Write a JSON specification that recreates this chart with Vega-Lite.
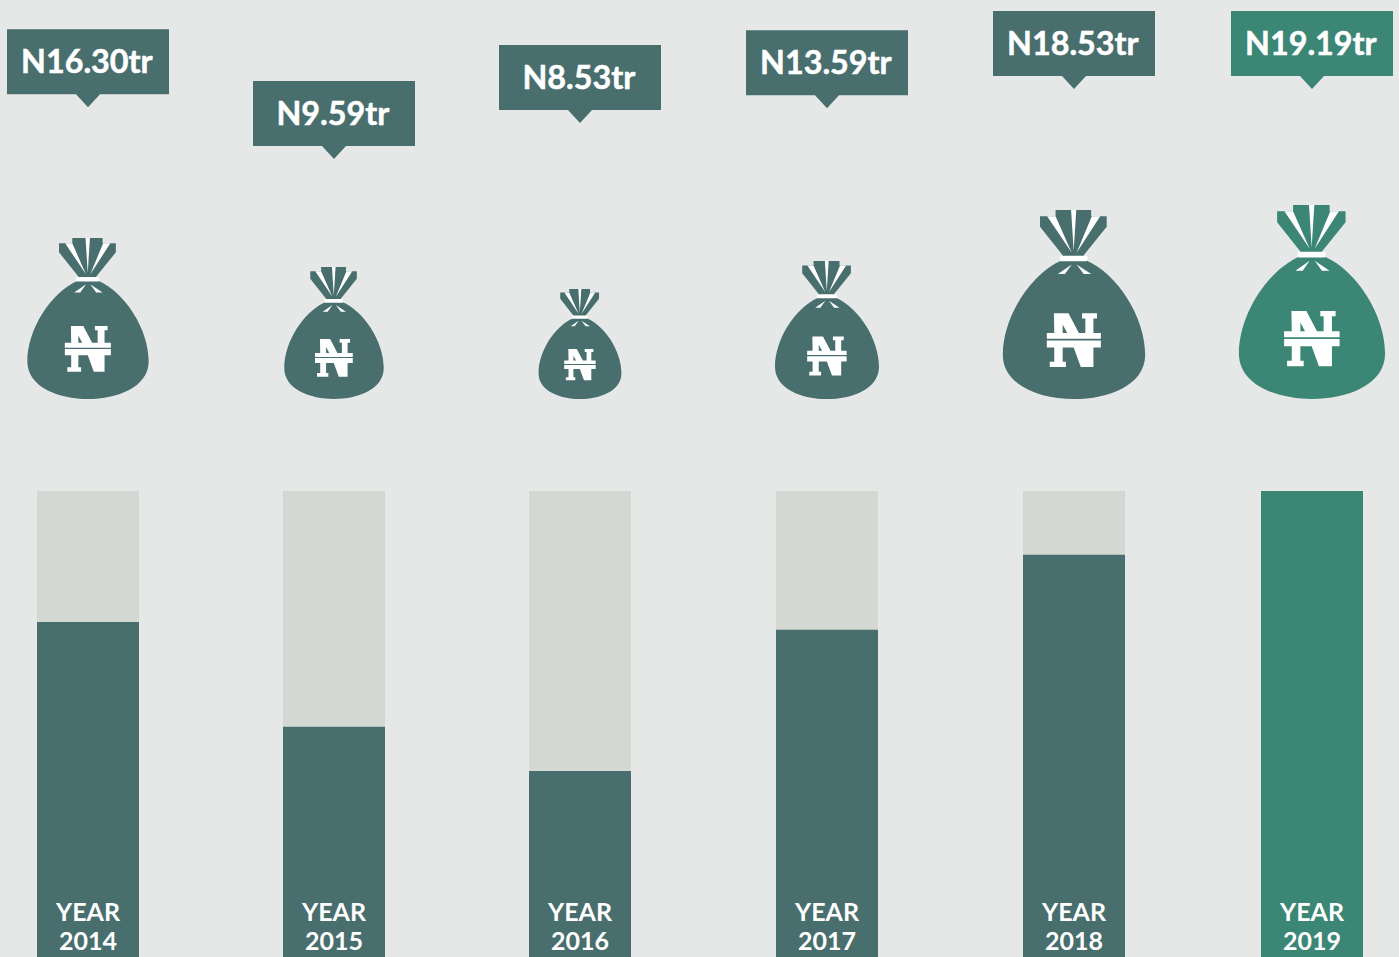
{"$schema":"https://vega.github.io/schema/vega-lite/v6.json","width":1399,"height":957,"autosize":{"type":"fit","contains":"padding"},"padding":0,"background":"#e6e8e7","view":{"stroke":null},
"data":{"values":[
{"year":2014,"label":"N16.30tr","share":71.9,"labelLevel":199.1,"bagHeight":161,"group":"past","yearText":"YEAR\n2014"},
{"year":2015,"label":"N9.59tr","share":49.4,"labelLevel":188.0,"bagHeight":132,"group":"past","yearText":"YEAR\n2015"},
{"year":2016,"label":"N8.53tr","share":39.9,"labelLevel":195.7,"bagHeight":110,"group":"past","yearText":"YEAR\n2016"},
{"year":2017,"label":"N13.59tr","share":70.2,"labelLevel":198.9,"bagHeight":138,"group":"past","yearText":"YEAR\n2017"},
{"year":2018,"label":"N18.53tr","share":86.3,"labelLevel":203.0,"bagHeight":189,"group":"past","yearText":"YEAR\n2018"},
{"year":2019,"label":"N19.19tr","share":100,"labelLevel":203.0,"bagHeight":194,"group":"latest","yearText":"YEAR\n2019"}
]},
"encoding":{"x":{"field":"year","type":"quantitative","axis":null,"scale":{"domain":[2014,2015,2016,2017,2018,2019],"range":[88,334,580,827,1074,1312],"nice":false,"zero":false,"padding":0}}},
"layer":[
{"mark":{"type":"bar","orient":"vertical","width":102,"color":"#d3d8d3"},"encoding":{"y":{"datum":100,"type":"quantitative","axis":null,"scale":{"domain":[0,205.365],"nice":false}}}},
{"mark":{"type":"bar","orient":"vertical","width":102},"encoding":{"y":{"field":"share","type":"quantitative","axis":null,"scale":{"domain":[0,205.365],"nice":false}},"color":{"field":"group","type":"nominal","legend":null,"scale":{"domain":["past","latest"],"range":["#486e6e","#3b8675"]}}}},
{"mark":{"type":"point","filled":true,"opacity":1,"strokeWidth":0,"shape":"M-37,-429 C-135,-387 -220,-252 -220,-137 C-220,-42 -105,0 0,0 C105,0 220,-42 220,-137 C220,-252 135,-387 37,-429 L30,-444 L101,-532 L101,-565 L53,-565 L53,-584 L-57,-584 L-57,-565 L-105,-565 L-105,-532 L-35,-444 Z"},"encoding":{"y":{"datum":119.74,"type":"quantitative","axis":null,"scale":{"domain":[0,205.365],"nice":false}},"size":{"field":"bagHeight","type":"quantitative","legend":null,"scale":{"type":"pow","exponent":2,"domain":[0,292],"range":[0,1]}},"color":{"field":"group","type":"nominal","legend":null,"scale":{"domain":["past","latest"],"range":["#486e6e","#3b8675"]}}}},
{"mark":{"type":"point","filled":true,"opacity":1,"strokeWidth":0,"color":"#ffffff","shape":"M-40,-443 L38,-443 L41,-440 L41,-429 L38,-426 L-40,-426 L-43,-429 L-43,-440 Z M-83,-565 L-57,-565 L-7,-452 Z M-9,-584 L7,-584 L-1,-457 Z M55,-565 L81,-565 L8,-452 Z M-7,-416 L-50,-386 L-28,-386 Z M8,-416 L53,-386 L30,-386 Z M-84,-204 L83,-204 L83,-186 L-84,-186 Z M-84,-181 L83,-181 L83,-159 L-84,-159 Z M35,-204 L35,-249 L25,-249 L25,-265 L71,-265 L71,-249 L60,-249 L60,-204 Z M-61,-204 L-35,-204 L-35,-230 L-21,-204 L15,-204 L-17,-265 L-62,-265 Z M-61,-181 L-35,-181 L-35,-115 L-25,-115 L-25,-99 L-75,-99 L-75,-115 L-61,-115 Z M-9,-181 L23,-181 L35,-157 L35,-181 L60,-181 L60,-99 L21,-99 Z"},"encoding":{"y":{"datum":119.74,"type":"quantitative","axis":null,"scale":{"domain":[0,205.365],"nice":false}},"size":{"field":"bagHeight","type":"quantitative","legend":null,"scale":{"type":"pow","exponent":2,"domain":[0,292],"range":[0,1]}}}},
{"mark":{"type":"point","filled":true,"opacity":1,"strokeWidth":0,"size":4,"shape":"M-81,0 L81,0 L81,65 L12,65 L0,78 L-12,65 L-81,65 Z"},"encoding":{"y":{"field":"labelLevel","type":"quantitative","axis":null,"scale":{"domain":[0,205.365],"nice":false}},"color":{"field":"group","type":"nominal","legend":null,"scale":{"domain":["past","latest"],"range":["#486e6e","#3b8675"]}}}},
{"mark":{"type":"text","font":"Lato","fontWeight":700,"fontSize":32.3,"color":"#ffffff","stroke":"#ffffff","strokeWidth":0.5,"baseline":"middle","align":"center","dy":34,"dx":-1.2},"encoding":{"y":{"field":"labelLevel","type":"quantitative","axis":null,"scale":{"domain":[0,205.365],"nice":false}},"text":{"field":"label"}}},
{"mark":{"type":"text","font":"Lato","fontWeight":700,"fontSize":25,"color":"#ffffff","baseline":"alphabetic","align":"center","lineBreak":"\n","lineHeight":29},"encoding":{"y":{"datum":7.7,"type":"quantitative","axis":null,"scale":{"domain":[0,205.365],"nice":false}},"text":{"field":"yearText"}}}
]}
